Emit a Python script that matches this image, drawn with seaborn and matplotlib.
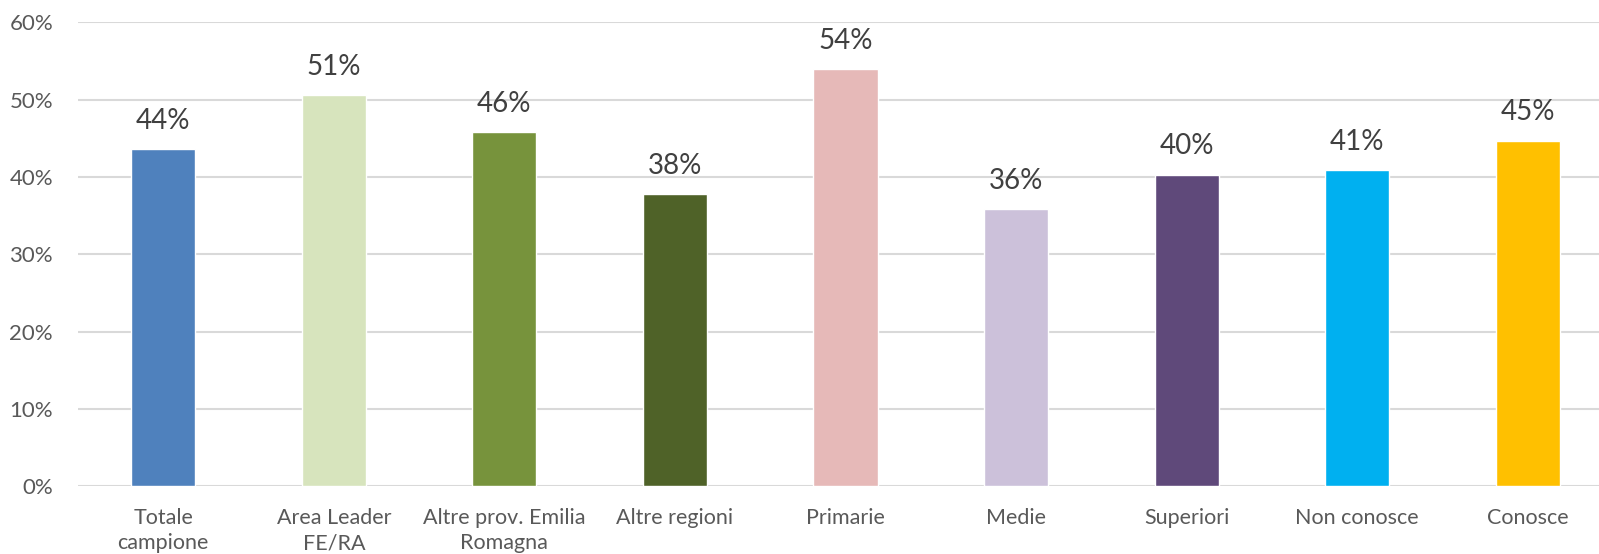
import pandas as pd
import matplotlib
matplotlib.use('Agg')
import matplotlib.pyplot as plt
import seaborn as sns

# Data
categories = ['Totale\ncampione', 'Area Leader\nFE/RA', 'Altre prov. Emilia\nRomagna',
              'Altre regioni', 'Primarie', 'Medie', 'Superiori', 'Non conosce', 'Conosce']
values = [43.6, 50.6, 45.8, 37.8, 54.0, 35.8, 40.3, 40.9, 44.7]
bar_colors = ['#4F81BD', '#D7E4BD', '#77933C', '#4F6228', '#E6B9B8',
              '#CCC1DA', '#5F497A', '#00B0F0', '#FFC000']
y_ticks = [0, 10, 20, 30, 40, 50, 60]

df = pd.DataFrame({'categoria': categories, 'valore': values})

sns.set_style('white')
plt.rcParams['font.family'] = ['Lato', 'DejaVu Sans']

fig = plt.figure(figsize=(15.99, 5.54), dpi=100)
ax = fig.add_axes([0.0488, 0.1227, 0.96, 0.8367])

sns.barplot(data=df, x='categoria', y='valore', hue='categoria',
            palette=bar_colors, legend=False, width=0.376, saturation=1, ax=ax)

# Data labels above each bar
for i, v in enumerate(values):
    ax.annotate(f'{round(v):.0f}%', (i, v), xytext=(0, 11), textcoords='offset points',
                ha='center', va='bottom', fontsize=20, color='#404040')

ax.set_xlim(-0.5, 8.5)
ax.set_ylim(0, 60)
ax.set_yticks(y_ticks)
ax.set_yticklabels([f'{t}%' for t in y_ticks])
ax.yaxis.grid(True, color='#D9D9D9', linewidth=1.5)
ax.set_axisbelow(True)
ax.set_xlabel('')
ax.set_ylabel('')
for s in ax.spines.values():
    s.set_visible(False)

ax.tick_params(axis='y', length=0, pad=18, labelsize=16, labelcolor='#595959')
ax.tick_params(axis='x', length=0, pad=16, labelsize=15.5, labelcolor='#595959')
for lbl in ax.get_xticklabels():
    lbl.set_linespacing(1.32)

fig.savefig('out.png', dpi=100)
